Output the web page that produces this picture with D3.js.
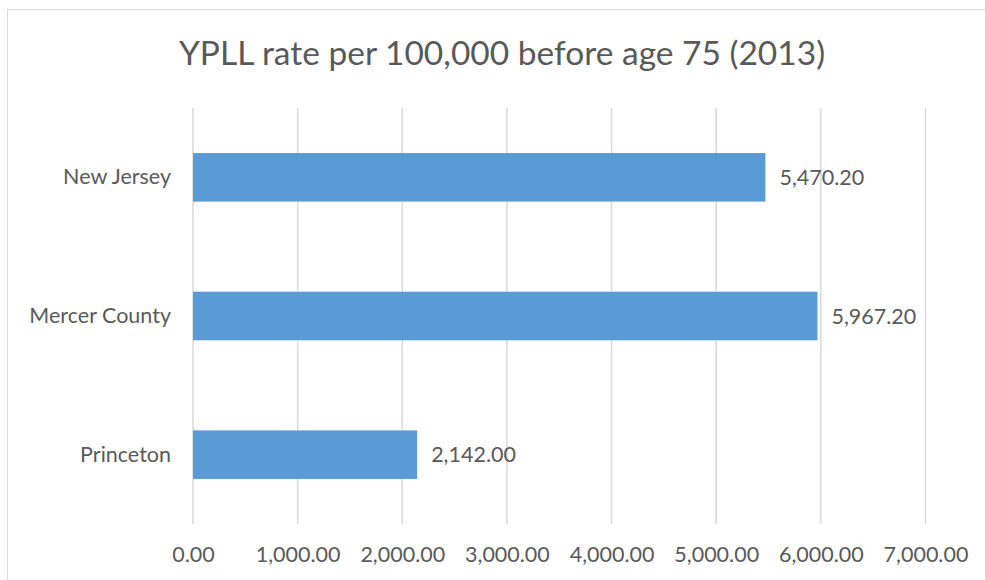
<!DOCTYPE html>
<html>
<head>
<meta charset="utf-8">
<script src="https://cdn.jsdelivr.net/npm/d3@7"></script>
<style>
  body { margin: 0; background: #fff; }
  text { font-family: Lato, "Open Sans", sans-serif; fill: #595959; }
</style>
</head>
<body>
<div id="chart"></div>
<script>
// YPLL rate per 100,000 before age 75 (2013)
var categories = ["New Jersey", "Mercer County", "Princeton"];
var values = [5470.2, 5967.2, 2142.0];
var tickValues = [0, 1000, 2000, 3000, 4000, 5000, 6000, 7000];
var title = "YPLL rate per 100,000 before age 75 (2013)";

var width = 985,
    height = 580,
    margin = {"top": 108, "right": 60, "bottom": 56, "left": 193},
    plot_width = 925.5 - margin.left,
    plot_height = height - margin.top - margin.bottom;

var svg = d3.select("#chart").append("svg")
    .attr("width", width)
    .attr("height", height);

// chart border
svg.append("rect")
    .attr("x", 7.5).attr("y", 9.5)
    .attr("width", width + 10).attr("height", height + 10)
    .attr("fill", "none")
    .attr("stroke", "#d9d9d9");

svg.append("text")
    .attr("x", 502).attr("y", 65)
    .attr("text-anchor", "middle")
    .style("font-size", "33.5px")
    .text(title);

var x = d3.scaleLinear().domain([0, 7000]).range([0, plot_width]);
var y = d3.scaleBand().domain(categories).range([0, plot_height]).paddingInner(0.65).paddingOuter(0.325);

var g = svg.append("g")
    .attr("transform", "translate(" + margin.left + "," + margin.top + ")");

// gridlines
g.selectAll(".grid")
    .data(tickValues)
  .enter().append("line")
    .attr("class", "grid")
    .attr("x1", (d) => x(d)).attr("x2", (d) => x(d))
    .attr("y1", 0).attr("y2", plot_height)
    .attr("stroke", "#d9d9d9")
    .attr("stroke-width", 1.5);

var fmt = d3.format(",.2f");

// x axis labels
var xAxis = g.append("g")
    .attr("transform", "translate(0," + plot_height + ")")
    .call(d3.axisBottom(x).tickValues(tickValues).tickFormat(fmt).tickSize(0).tickPadding(23));
xAxis.select(".domain").remove();
xAxis.selectAll("text").style("font-size", "21.5px").attr("fill", "#595959");

// y axis labels
var yAxis = g.append("g")
    .call(d3.axisLeft(y).tickSize(0).tickPadding(22));
yAxis.select(".domain").remove();
yAxis.selectAll("text").style("font-size", "21.5px").attr("fill", "#595959");

g.selectAll(".bar")
    .data(values)
  .enter().append("rect")
    .attr("class", "bar")
    .attr("x", 0)
    .attr("y", (d, i) => y(categories[i]))
    .attr("width", (d) => x(d))
    .attr("height", y.bandwidth())
    .attr("fill", "#5b9bd5");

g.selectAll(".label")
    .data(values)
  .enter().append("text")
    .attr("class", "label")
    .attr("x", (d) => x(d) + 14)
    .attr("y", (d, i) => y(categories[i]) + y.bandwidth() / 2)
    .attr("dy", "0.35em")
    .style("font-size", "21.5px")
    .text((d) => fmt(d));
</script>
</body>
</html>
